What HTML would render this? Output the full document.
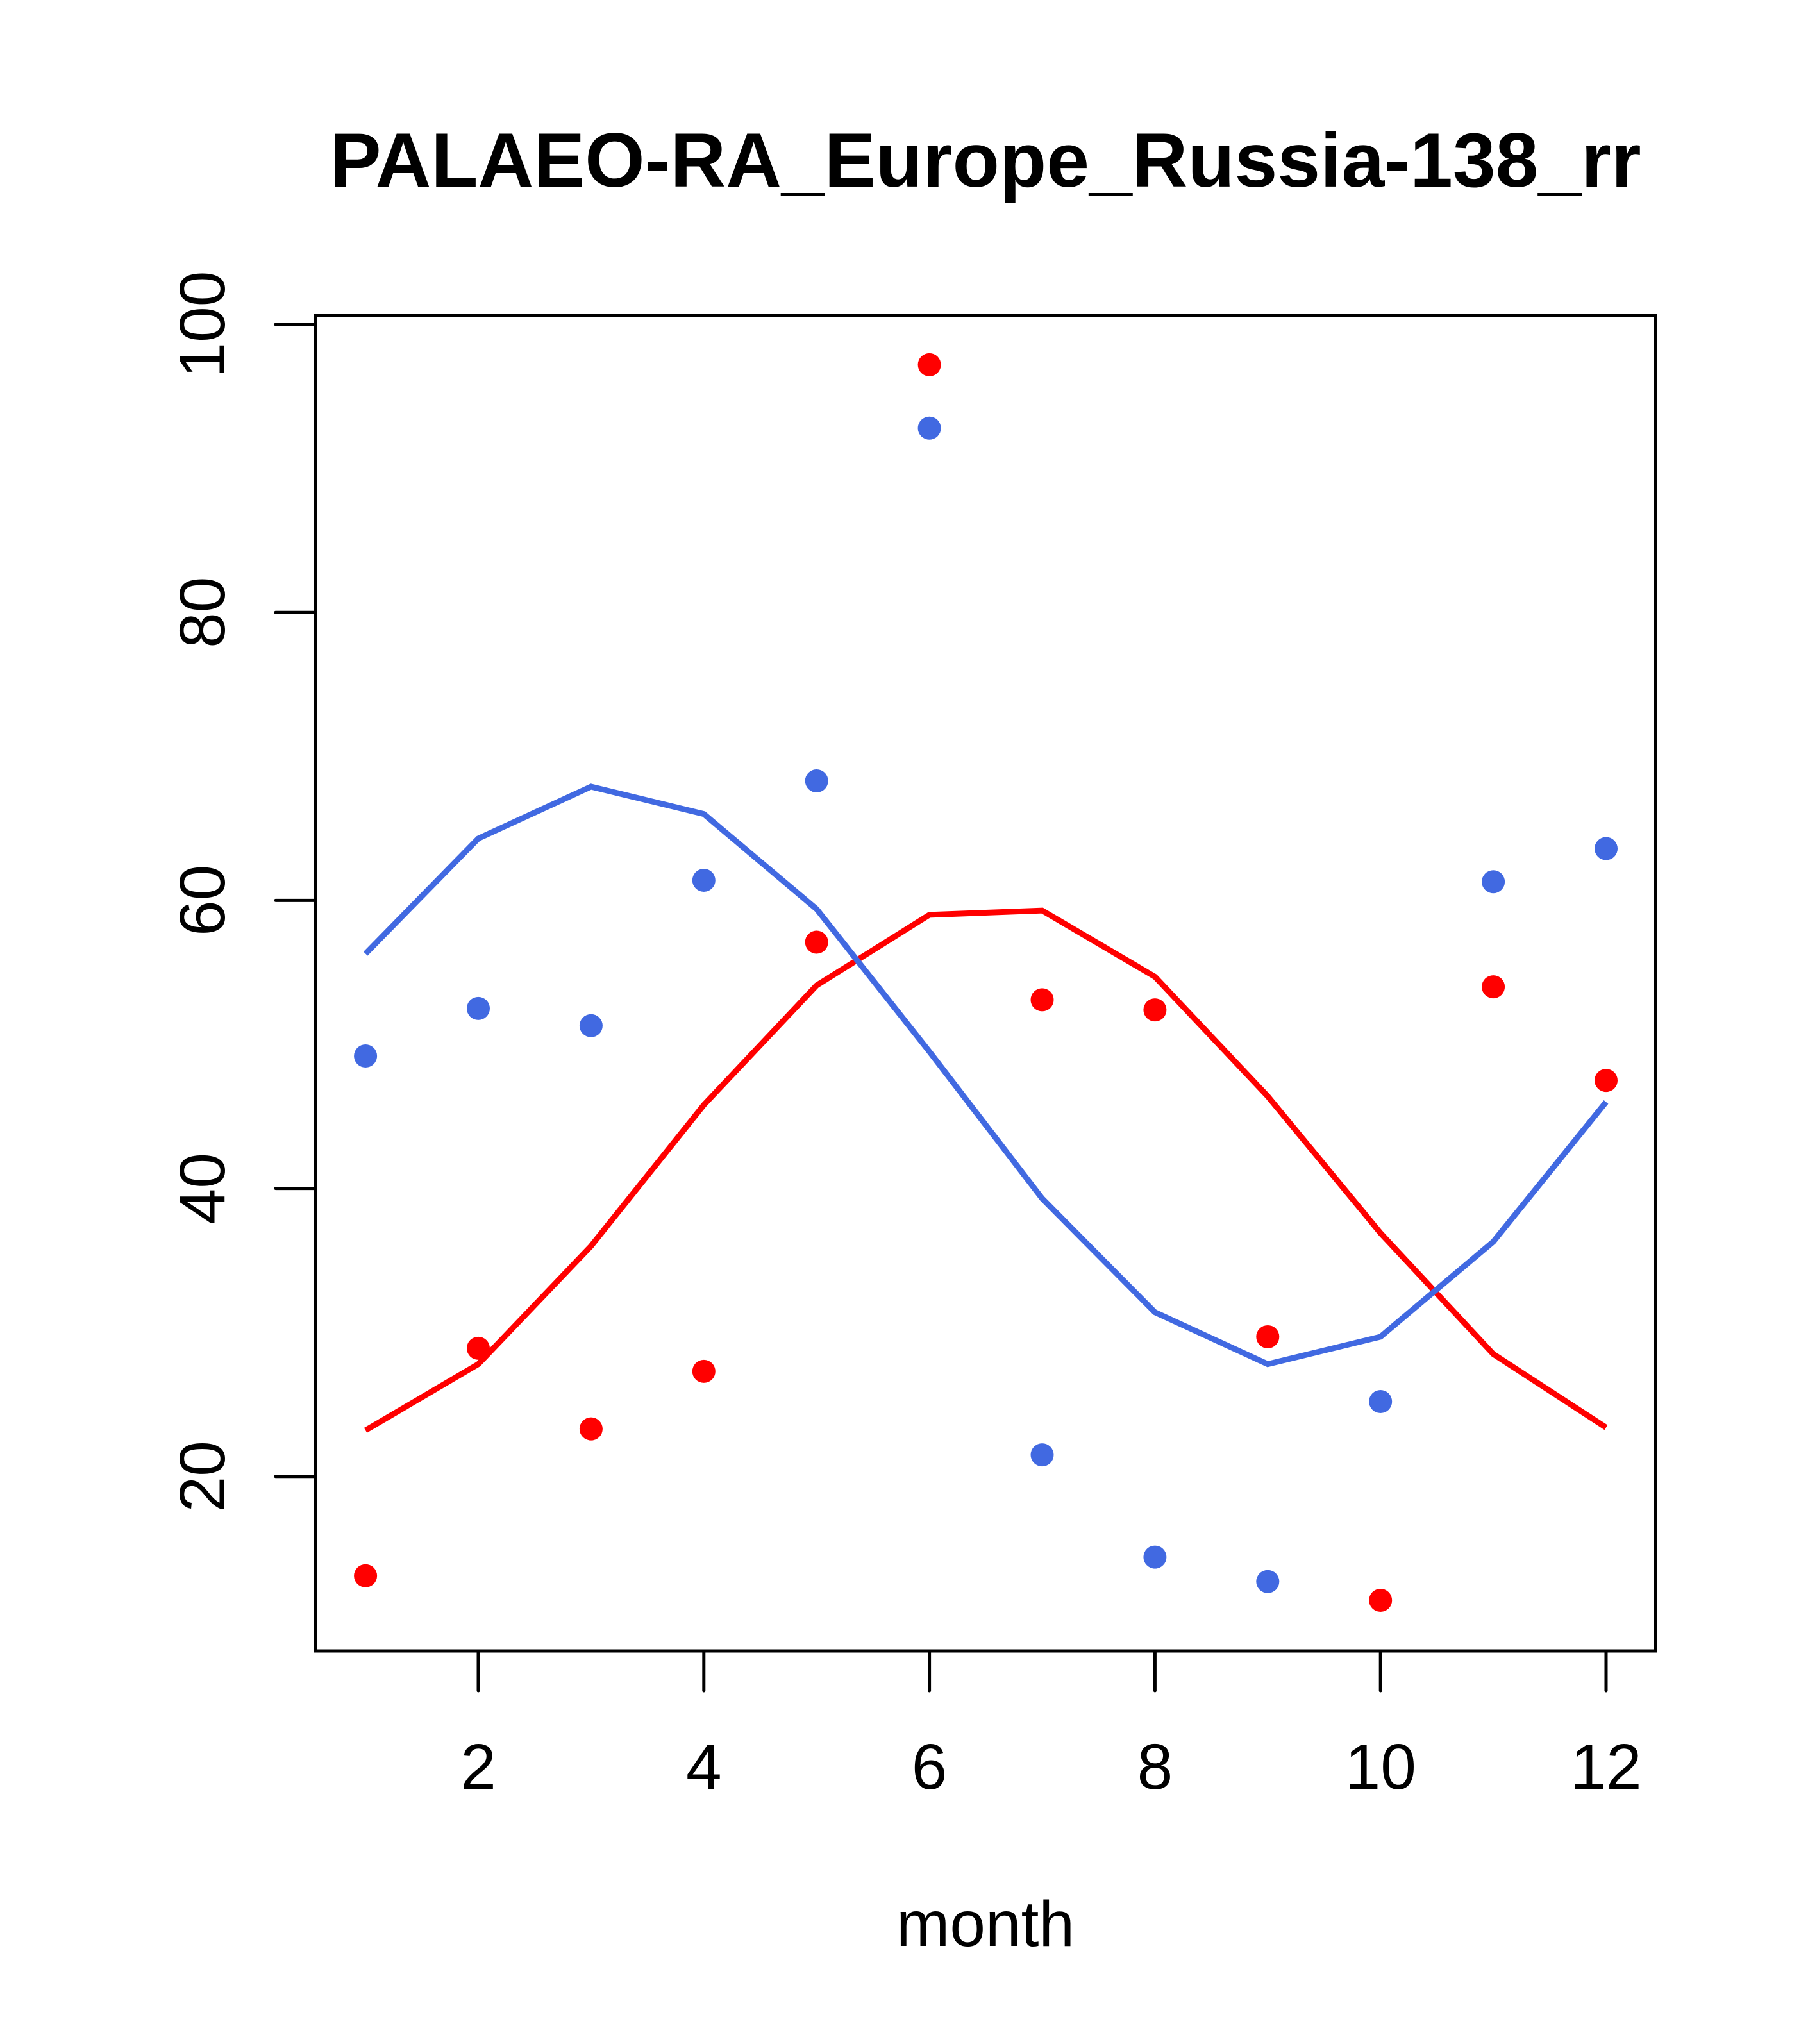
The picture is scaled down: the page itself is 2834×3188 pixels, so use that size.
<!DOCTYPE html>
<html><head><meta charset="utf-8"><style>html,body{margin:0;padding:0;background:#fff}svg{display:block}</style></head>
<body>
<svg id="chart" width="2834" height="3188" xmlns="http://www.w3.org/2000/svg" font-family="Liberation Sans, sans-serif">
<text x="1537" y="291" font-size="120" font-weight="bold" text-anchor="middle">PALAEO-RA_Europe_Russia-138_rr</text>
<rect x="492" y="492" width="2090" height="2083" fill="none" stroke="#000" stroke-width="5"/>
<text x="1537" y="3035" font-size="100" text-anchor="middle">month</text>
<g id="axes"></g>
<g id="series"></g>
</svg>
<script>
const months=[1,2,3,4,5,6,7,8,9,10,11,12];
const redPoints=[13.1,28.9,23.3,27.3,57.1,97.2,53.1,52.4,29.7,11.4,54.0,47.5];
const bluePoints=[49.2,52.5,51.3,61.4,68.3,92.8,21.5,14.4,12.7,25.2,61.3,63.6];
const redLine=[23.2,27.8,36.0,45.8,54.1,59.0,59.3,54.7,46.4,36.9,28.5,23.4];
const blueLine=[56.3,64.3,67.9,66.0,59.4,49.5,39.3,31.4,27.8,29.7,36.3,46.0];
const xTicks=[2,4,6,8,10,12];
const yTicks=[20,40,60,80,100];
const NS="http://www.w3.org/2000/svg";
function sx(v){return 746+(v-2)*175.9;}
function sy(v){return 506+(100-v)*22.46;}
function mk(tag,attrs,parent){const e=document.createElementNS(NS,tag);for(const k in attrs)e.setAttribute(k,attrs[k]);parent.appendChild(e);return e;}
const axes=document.getElementById('axes');
const ser=document.getElementById('series');
xTicks.forEach(t=>{
  const l=mk('line',{x1:sx(t),x2:sx(t),y1:2575,y2:2637,stroke:'#000','stroke-width':5,'stroke-linecap':'round'},axes);
  
  
  const tx=mk('text',{x:sx(t),y:2790,'font-size':100,'text-anchor':'middle'},axes);
  tx.textContent=t;
  
  
});
yTicks.forEach(t=>{
  const l=mk('line',{x1:430,x2:492,y1:sy(t),y2:sy(t),stroke:'#000','stroke-width':5,'stroke-linecap':'round'},axes);
  
  
  const tx=mk('text',{x:350,y:sy(t),'font-size':100,'text-anchor':'middle',transform:`rotate(-90 350 ${sy(t)})`},axes);
  tx.textContent=t;
  
  
});
function line(vals,color,name){
  const p=mk('polyline',{points:vals.map((v,i)=>sx(months[i])+','+sy(v)).join(' '),fill:'none',stroke:color,'stroke-width':9},ser);
  
  
}
function pts(vals,color,name){
  vals.forEach((v,i)=>{
    const c=mk('circle',{cx:sx(months[i]),cy:sy(v),r:18,fill:color},ser);
    
    
  });
}
line(redLine,'#ff0000','red-line');
line(blueLine,'#4169e1','blue-line');
pts(redPoints,'#ff0000','red-point');
pts(bluePoints,'#4169e1','blue-point');
</script>
</body></html>
